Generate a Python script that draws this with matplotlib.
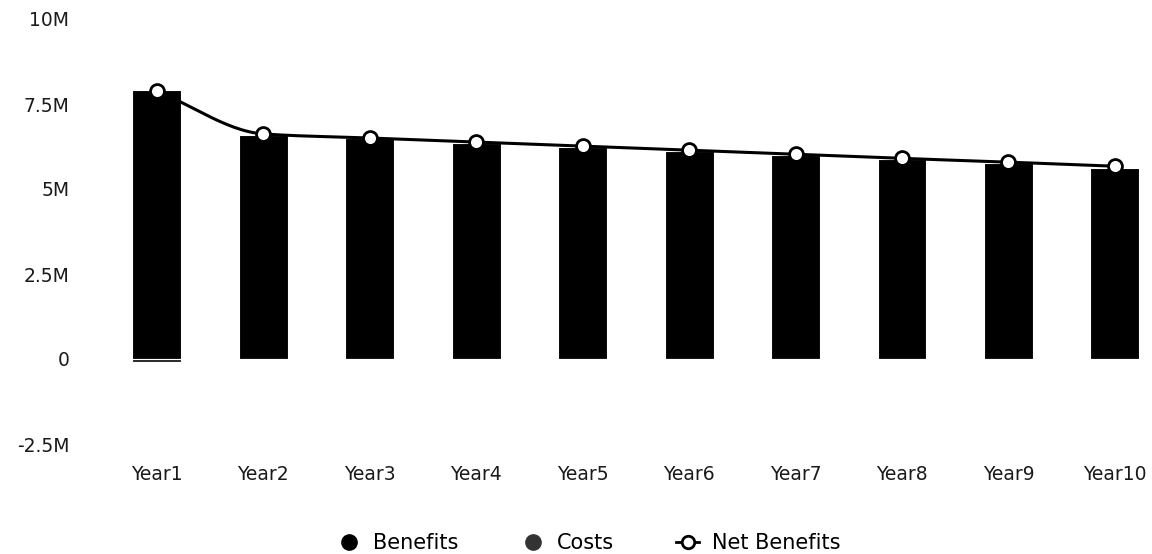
import numpy as np
import matplotlib.pyplot as plt
from matplotlib.lines import Line2D

plt.rcParams['font.family'] = ['DejaVu Sans']

years = ['Year1', 'Year2', 'Year3', 'Year4', 'Year5', 'Year6', 'Year7', 'Year8', 'Year9', 'Year10']
benefits = [7.92, 6.60, 6.49, 6.36, 6.23, 6.11, 5.99, 5.87, 5.77, 5.62]
costs = [-0.10, 0, 0, 0, 0, 0, 0, 0, 0, 0]
net_benefits = [7.88, 6.62, 6.50, 6.38, 6.26, 6.14, 6.02, 5.90, 5.79, 5.67]
y_ticks = [-2.5, 0, 2.5, 5, 7.5, 10]
y_labels = ['-2.5M', '0', '2.5M', '5M', '7.5M', '10M']


def pchip(x, y, n=30):
    # monotone cubic for the smooth line
    x = np.asarray(x, float)
    y = np.asarray(y, float)
    h = np.diff(x)
    d = np.diff(y) / h
    m = np.zeros_like(y)
    for k in range(1, len(y) - 1):
        if d[k - 1] * d[k] > 0:
            w1 = 2 * h[k] + h[k - 1]
            w2 = h[k] + 2 * h[k - 1]
            m[k] = (w1 + w2) / (w1 / d[k - 1] + w2 / d[k])
    m[0] = d[0]
    m[-1] = d[-1]
    xs, ys = [], []
    for k in range(len(h)):
        t = np.linspace(0, 1, n)
        h00 = 2 * t**3 - 3 * t**2 + 1
        h10 = t**3 - 2 * t**2 + t
        h01 = -2 * t**3 + 3 * t**2
        h11 = t**3 - t**2
        xs.extend(x[k] + t * h[k])
        ys.extend(h00 * y[k] + h10 * h[k] * m[k] + h01 * y[k + 1] + h11 * h[k] * m[k + 1])
    return np.array(xs), np.array(ys)


fig = plt.figure(figsize=(11.52, 5.54), dpi=100)
# plot area: x 100..1150 px, y 19..444 px (10M .. -2.5M)
ax = fig.add_axes([100 / 1152, 110 / 554, 1050 / 1152, 425 / 554])

x = np.arange(len(years))
ax.bar(x, benefits, width=0.46, color='black', edgecolor='white', linewidth=0.8, zorder=2)
ax.bar(x, costs, width=0.46, color='#222222', edgecolor='white', linewidth=0.8, zorder=2)

sx, sy = pchip(x, net_benefits)
ax.plot(sx, sy, color='black', linewidth=2.2, zorder=3)
ax.plot(x, net_benefits, linestyle='none', marker='o', markersize=10,
        markerfacecolor='white', markeredgecolor='black', markeredgewidth=2, zorder=4)

ax.set_xlim(-0.535, 9.33)
ax.set_ylim(-2.5, 10)
ax.set_xticks(x)
ax.set_xticklabels(years)
ax.set_yticks(y_ticks)
ax.set_yticklabels(y_labels)
ax.tick_params(axis='both', length=0, labelsize=13.5, colors='#1a1a1a')
ax.tick_params(axis='x', pad=15)
ax.tick_params(axis='y', pad=22)
for s in ax.spines.values():
    s.set_visible(False)

handles = [
    Line2D([], [], linestyle='none', marker='o', markersize=11, color='black'),
    Line2D([], [], linestyle='none', marker='o', markersize=11, color='#333333'),
    Line2D([], [], color='black', linewidth=2, marker='o', markersize=9,
           markerfacecolor='white', markeredgecolor='black', markeredgewidth=2),
]
fig.legend(handles, ['Benefits', 'Costs', 'Net Benefits'], loc='center',
           bbox_to_anchor=(589 / 1152, 1 - 543 / 554), ncol=3, frameon=False,
           fontsize=15, handlelength=1.1, handletextpad=0.6, columnspacing=3.0)

fig.savefig('out.png', dpi=100)
